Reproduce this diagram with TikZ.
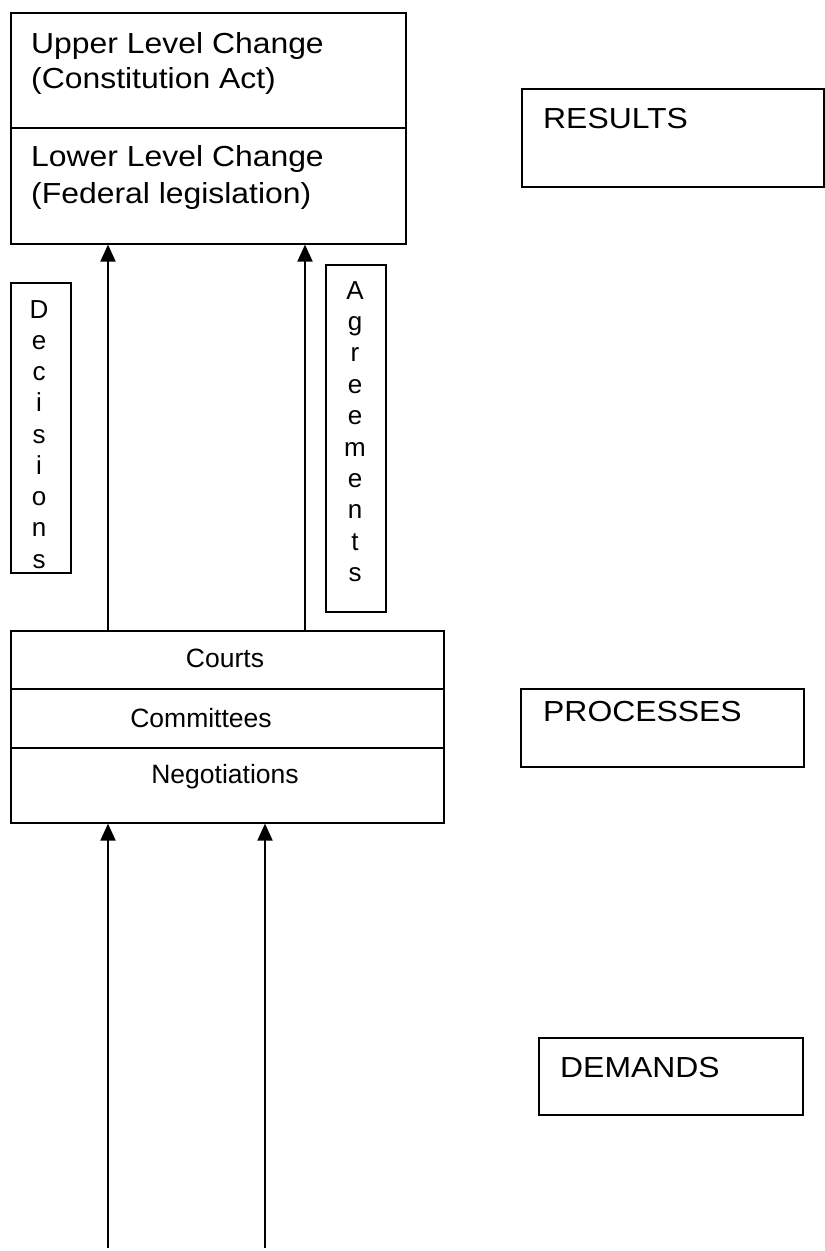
\documentclass[tikz,border=0pt]{standalone}
\usepackage{fontspec}
\setmainfont{Liberation Sans}
\newfontfamily\widesf[FakeStretch=1.1]{Liberation Sans}
\usetikzlibrary{arrows.meta}
\tikzset{
  box/.style={draw=black, line width=1.6pt, rectangle, inner sep=0pt, anchor=north west},
  bigtxt/.style={anchor=base west, inner sep=0pt, font=\widesf\fontsize{29}{35}\selectfont},
  midtxt/.style={anchor=base, inner sep=0pt, font=\fontsize{26.5}{32}\selectfont},
  lettxt/.style={anchor=base, inner sep=0pt, font=\fontsize{26}{31}\selectfont},
  arr/.style={line width=2pt, -{Triangle[length=17pt,width=15pt]}}
}
\begin{document}
\begin{tikzpicture}[x=1pt,y=-1pt]
\useasboundingbox[fill=white] (0,0) rectangle (825,1251);
% top result boxes
\node[box, minimum width=395pt, minimum height=115pt] (upper) at (10,12) {};
\node[box, minimum width=395pt, minimum height=116pt] (lower) at (10,127) {};
\node[bigtxt] (t1) at (31,53) {Upper Level Change};
\node[bigtxt] (t2) at (31,88) {(Constitution Act)};
\node[bigtxt] (t3) at (31,166) {Lower Level Change};
\node[bigtxt] (t4) at (31,203) {(Federal legislation)};
% process boxes
\node[box, minimum width=433pt, minimum height=58pt] (courts) at (10,630) {};
\node[box, minimum width=433pt, minimum height=59pt] (committees) at (10,688) {};
\node[box, minimum width=433pt, minimum height=75pt] (negotiations) at (10,747) {};
\node[midtxt] (ct) at (225,667) {Courts};
\node[midtxt] (cm) at (201,727) {Committees};
\node[midtxt] (ng) at (225,783) {Negotiations};
% vertical label boxes
\node[box, minimum width=60pt, minimum height=290pt] (decbox) at (10,282) {};
\node[box, minimum width=60pt, minimum height=347pt] (agrbox) at (325,264) {};
\foreach \l [count=\i from 0] in {D,e,c,i,s,i,o,n,s}
  \node[lettxt] (dl\i) at (39,318+31.25*\i) {\l};
\foreach \l [count=\i from 0] in {A,g,r,e,e,m,e,n,t,s}
  \node[lettxt] (al\i) at (355,299+31.4*\i) {\l};
% right side labels
\node[box, minimum width=302pt, minimum height=98pt] (results) at (521,88) {};
\node[bigtxt] (rt) at (543,128) {RESULTS};
\node[box, minimum width=283pt, minimum height=78pt] (processes) at (520,688) {};
\node[bigtxt] (pt) at (543,721) {PROCESSES};
\node[box, minimum width=264pt, minimum height=77pt] (demands) at (538,1037) {};
\node[bigtxt] (dt) at (560,1077) {DEMANDS};
% arrows
\coordinate (xa) at (108,0);
\coordinate (xb) at (305,0);
\coordinate (xc) at (265,0);
\coordinate (ba) at (108,1248);
\coordinate (bb) at (265,1248);
\draw[arr] (courts.north -| xa) -- (lower.south -| xa);
\draw[arr] (courts.north -| xb) -- (lower.south -| xb);
\draw[arr] (ba) -- (negotiations.south -| ba);
\draw[arr] (bb) -- (negotiations.south -| bb);
\end{tikzpicture}
\end{document}
